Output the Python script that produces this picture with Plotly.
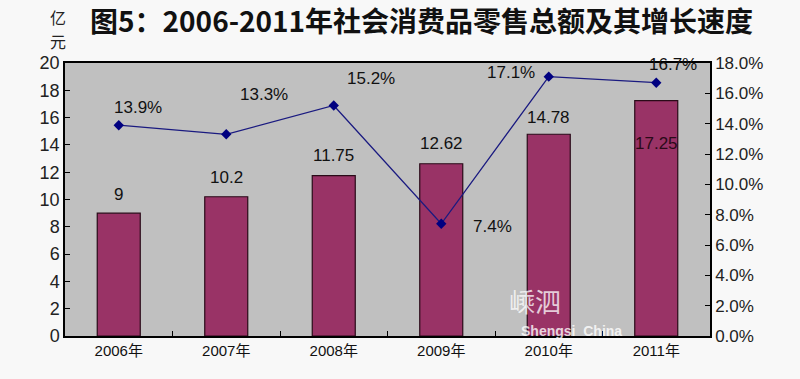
import plotly.graph_objects as go

years = ["2006年", "2007年", "2008年", "2009年", "2010年", "2011年"]
sales = [9, 10.2, 11.75, 12.62, 14.78, 17.25]
growth = [13.9, 13.3, 15.2, 7.4, 17.1, 16.7]
sales_text = ["9", "10.2", "11.75", "12.62", "14.78", "17.25"]
growth_text = ["13.9%", "13.3%", "15.2%", "7.4%", "17.1%", "16.7%"]
left_ticks = list(range(0, 21, 2))
right_ticks = list(range(0, 19, 2))
right_tick_text = [f"{v:.1f}%" for v in right_ticks]

# label offsets (pixels), as placed in the reference
bar_label_shift = [19, 19, 20, 20, 17, -43]
line_label_dx = [19, 38, 37, 51, -38, 17]
line_label_dy = [18, 40, 27, -3, 4, 18]

fig = go.Figure()
fig.add_trace(go.Bar(
    x=years, y=sales, marker=dict(color="#993366", line=dict(color="#2a0a18", width=1.2)),
    width=0.4, yaxis="y", showlegend=False, hoverinfo="skip"))
fig.add_trace(go.Scatter(
    x=years, y=growth, yaxis="y2", mode="lines+markers",
    line=dict(color="#1a1a80", width=1.3),
    marker=dict(symbol="diamond", size=8, color="#000080"),
    showlegend=False, hoverinfo="skip"))

font_fam = "Liberation Sans, Arial, sans-serif"
for i, y in enumerate(years):
    fig.add_annotation(x=y, y=sales[i], yref="y", text=sales_text[i], showarrow=False,
                       yshift=bar_label_shift[i], yanchor="middle", xanchor="center",
                       font=dict(size=17, color="#2a0a18" if i == 5 else "#111", family=font_fam))
    fig.add_annotation(x=y, y=growth[i], yref="y2", text=growth_text[i], showarrow=False,
                       xshift=line_label_dx[i], yshift=line_label_dy[i],
                       yanchor="middle", xanchor="center",
                       font=dict(size=17, color="#111", family=font_fam))

fig.add_annotation(xref="paper", yref="paper", x=-0.011, y=1.0, yshift=46,
                   yanchor="middle", xanchor="center", text="亿", showarrow=False,
                   font=dict(size=16, color="#222", family="Noto Sans CJK SC"))
fig.add_annotation(xref="paper", yref="paper", x=-0.011, y=1.0, yshift=22,
                   yanchor="middle", xanchor="center", text="元", showarrow=False,
                   font=dict(size=16, color="#222", family="Noto Sans CJK SC"))
fig.add_annotation(xref="paper", yref="paper", x=0.729, y=0.13, yanchor="middle", xanchor="center",
                   text="嵊泗", showarrow=False,
                   font=dict(size=26, color="rgba(255,255,255,0.75)", family="Noto Sans CJK SC"))
fig.add_annotation(xref="paper", yref="paper", x=0.785, y=0.018, yanchor="middle", xanchor="center",
                   text="<b>Shengsi  China</b>", showarrow=False,
                   font=dict(size=14, color="rgba(255,255,255,0.8)", family="Liberation Sans"))

fig.update_layout(
    width=800, height=379,
    margin=dict(l=65, r=90, t=63, b=43),
    paper_bgcolor="#F8F8F8", plot_bgcolor="#C0C0C0",
    title=dict(text="<b>图5：2006-2011年社会消费品零售总额及其增长速度</b>",
               x=0.527, xanchor="center", y=0.942, yanchor="middle",
               font=dict(size=28, color="#111", family="Noto Sans CJK SC"), automargin=False),
    bargap=0.6,
    xaxis=dict(type="category", showline=True, linecolor="#000", linewidth=1.5, mirror=True,
               ticks="inside", tickson="boundaries", ticklen=5, tickcolor="#000",
               tickfont=dict(size=15, color="#111", family="Liberation Sans, Noto Sans CJK SC"),
               showgrid=False, automargin=False),
    yaxis=dict(range=[0, 20], tickvals=left_ticks, showline=True, linecolor="#000", linewidth=1.5,
               ticks="inside", ticklen=5, tickcolor="#000", showgrid=False, zeroline=False,
               tickfont=dict(size=18, color="#222", family=font_fam), automargin=False),
    yaxis2=dict(range=[0, 18], tickvals=right_ticks, ticktext=right_tick_text, overlaying="y",
                side="right", showline=True, linecolor="#000", linewidth=1.5,
                ticks="inside", ticklen=5, tickcolor="#000", showgrid=False, zeroline=False,
                tickfont=dict(size=17, color="#222", family=font_fam), automargin=False),
)

fig.write_html("out.html", config={"displayModeBar": False},
               post_script="document.body.style.margin='0px';")
